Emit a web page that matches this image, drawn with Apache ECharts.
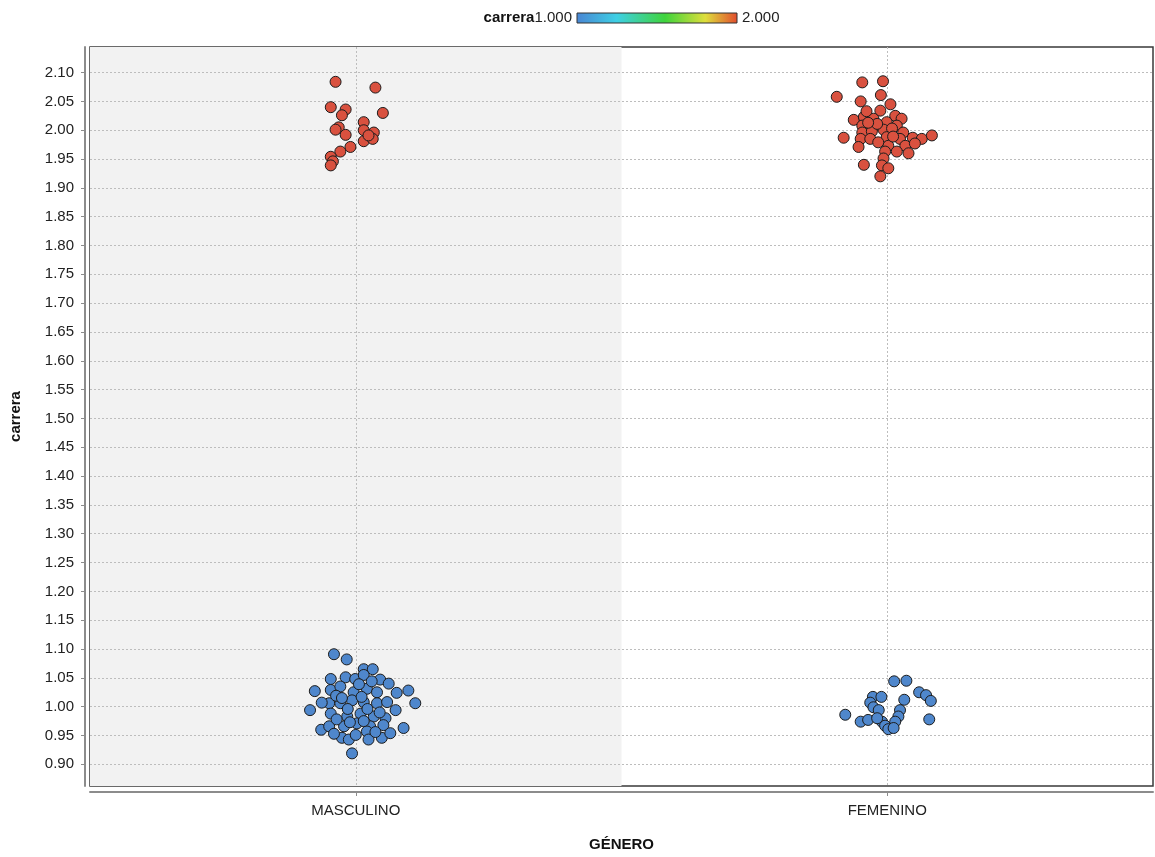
<!DOCTYPE html>
<html>
<head>
<meta charset="utf-8">
<script src="https://cdn.jsdelivr.net/npm/echarts@6/dist/echarts.min.js"></script>
<style>
html,body{margin:0;padding:0;background:#fff;}
#chart{width:1155px;height:857px;}
</style>
</head>
<body>
<div id="chart"></div>
<script>
// ---- data ----
const categories = ['MASCULINO', 'FEMENINO'];
const yTickValues = [0.90,0.95,1.00,1.05,1.10,1.15,1.20,1.25,1.30,1.35,1.40,1.45,1.50,1.55,1.60,1.65,1.70,1.75,1.80,1.85,1.90,1.95,2.00,2.05,2.10];
const carreraRange = [1, 2];
const yTitle = 'carrera';
const xTitle = 'GÉNERO';

// [jitter (category units), carrera value]
const mascCarrera1 = [
  [-0.041,1.091],[-0.017,1.082],[0.015,1.065],[0.032,1.065],[-0.047,1.048],[-0.019,1.051],[-0.001,1.048],
  [0.015,1.055],[0.046,1.047],[0.062,1.040],[-0.077,1.027],[-0.047,1.029],[-0.029,1.035],[-0.004,1.025],
  [0.021,1.031],[0.040,1.025],[0.077,1.024],[0.099,1.028],[-0.086,0.994],[-0.050,1.006],[-0.029,1.006],
  [-0.007,1.011],[0.015,1.008],[0.040,1.006],[0.059,1.008],[0.112,1.006],[-0.047,0.988],[-0.016,0.983],
  [0.009,0.988],[0.034,0.983],[0.056,0.980],[-0.065,0.960],[-0.050,0.966],[-0.022,0.966],[0.002,0.971],
  [0.027,0.966],[0.052,0.968],[0.090,0.963],[-0.026,0.946],[-0.013,0.943],[0.021,0.957],[0.024,0.943],
  [0.049,0.946],[0.065,0.954],[-0.007,0.919],[-0.037,1.019],[0.011,1.017],[-0.015,0.996],[0.022,0.996],
  [-0.036,0.978],[0.000,0.951],[0.037,0.956],[0.006,1.039],[-0.064,1.007],[0.075,0.994],[-0.041,0.953],
  [0.030,1.044],[-0.011,0.973],[0.015,0.975],[-0.026,1.015],[0.045,0.990]
];
const mascCarrera2 = [
  [-0.038,2.084],[0.037,2.074],[-0.047,2.040],[-0.019,2.036],[-0.026,2.026],[0.051,2.030],[0.015,2.014],
  [-0.032,2.005],[-0.038,2.001],[-0.019,1.992],[0.015,2.000],[0.034,1.996],[0.015,1.981],[0.032,1.985],
  [-0.010,1.971],[-0.029,1.963],[-0.047,1.954],[-0.043,1.946],[-0.047,1.939],[0.024,1.991]
];
const femCarrera1 = [
  [0.013,1.044],[0.036,1.045],[0.060,1.025],[0.073,1.020],[0.082,1.010],[-0.027,1.017],[-0.011,1.017],
  [-0.032,1.007],[0.032,1.012],[-0.026,0.999],[-0.016,0.994],[0.024,0.994],[-0.079,0.986],[0.021,0.983],
  [0.079,0.978],[-0.050,0.974],[-0.036,0.977],[-0.010,0.974],[0.015,0.974],[-0.004,0.967],[0.002,0.961],
  [0.012,0.963],[-0.019,0.980]
];
const femCarrera2 = [
  [-0.047,2.083],[-0.008,2.085],[-0.095,2.058],[-0.050,2.050],[-0.012,2.061],[0.006,2.045],[-0.013,2.034],
  [0.015,2.025],[-0.063,2.018],[-0.044,2.023],[-0.026,2.020],[0.027,2.020],[-0.001,2.014],[-0.047,2.008],
  [-0.026,2.005],[0.018,2.008],[-0.007,2.001],[0.009,2.003],[-0.047,1.996],[-0.029,1.998],[0.030,1.996],
  [-0.082,1.987],[-0.050,1.985],[-0.032,1.985],[-0.001,1.988],[0.024,1.985],[0.048,1.987],[0.065,1.985],
  [0.084,1.991],[-0.054,1.971],[0.002,1.973],[0.034,1.973],[0.040,1.960],[0.018,1.963],[-0.004,1.963],
  [-0.007,1.951],[-0.044,1.940],[-0.010,1.939],[0.002,1.934],[-0.013,1.920],[-0.019,2.011],[-0.036,2.013],
  [0.011,1.989],[-0.017,1.979],[0.052,1.977],[-0.039,2.033]
];

// ---- build ----
function pts(arr, catIdx, carrera) {
  return arr.map(p => [catIdx + p[0], p[1], carrera]);
}
const allPoints = []
  .concat(pts(mascCarrera1, 0, 1))
  .concat(pts(femCarrera1, 1, 1))
  .concat(pts(mascCarrera2, 0, 2))
  .concat(pts(femCarrera2, 1, 2));

const FONT = 'Liberation Sans';
const FS = 15;
const gradStops = [
  {offset:0, color:'#4a86d4'},
  {offset:0.25, color:'#3ecfe4'},
  {offset:0.55, color:'#3fd43c'},
  {offset:0.8, color:'#dede3c'},
  {offset:1, color:'#e24c2e'}
];

const chart = echarts.init(document.getElementById('chart'), null, {renderer:'canvas'});
chart.setOption({
  animation: false,
  backgroundColor: '#ffffff',
  textStyle: {fontFamily: FONT},
  grid: {
    left: 86, right: 2, top: 47, bottom: 60,
    show: true, backgroundColor: 'rgba(255,255,255,0)', borderColor: '#3a3a3a', borderWidth: 1.5
  },
  visualMap: {
    type: 'continuous', show: false,
    min: carreraRange[0], max: carreraRange[1], dimension: 2, seriesIndex: 0,
    inRange: {color: ['#4f87cc', '#d9513f']}
  },
  xAxis: [
    {
      type: 'category', data: categories, boundaryGap: true, position: 'bottom', offset: 6, z: 0,
      name: xTitle, nameLocation: 'middle', nameGap: 45,
      nameTextStyle: {fontFamily: FONT, fontSize: FS, fontWeight: 'bold', color: '#111'},
      axisLine: {show: true, onZero: false, lineStyle: {color: '#8c8c8c', width: 2}},
      axisTick: {show: true, alignWithLabel: true, length: 4, lineStyle: {color: '#8c8c8c'}},
      axisLabel: {fontFamily: FONT, fontSize: FS, color: '#222', margin: 11},
      splitLine: {show: false},
      splitArea: {show: true, areaStyle: {color: ['#f2f2f2', 'rgba(255,255,255,0)']}}
    },
    {
      type: 'value', min: -0.5, max: 1.5, position: 'bottom', z: 1,
      axisLine: {show: false, onZero: false},
      axisTick: {show: false, customValues: [0, 1]},
      axisLabel: {show: false, customValues: [0, 1]},
      splitLine: {show: true, lineStyle: {color: '#bdbdbd', width: 1, type: [2, 2]}}
    }
  ],
  yAxis: {
    type: 'value', min: 0.8624, max: 2.1444, offset: 5, z: 1,
    minInterval: 0.05, maxInterval: 0.05,
    name: yTitle, nameLocation: 'middle', nameGap: 62, nameRotate: 90,
    nameTextStyle: {fontFamily: FONT, fontSize: FS, fontWeight: 'bold', color: '#111'},
    axisLine: {show: true, onZero: false, lineStyle: {color: '#8c8c8c', width: 2}},
    axisTick: {show: true, length: 4, lineStyle: {color: '#8c8c8c'}, customValues: yTickValues},
    axisLabel: {
      fontFamily: FONT, fontSize: FS, color: '#222', margin: 11,
      customValues: yTickValues,
      formatter: v => v.toFixed(2)
    },
    splitLine: {show: true, lineStyle: {color: '#bdbdbd', width: 1, type: [2, 2]}}
  },
  series: [
    {
      type: 'scatter', xAxisIndex: 1, yAxisIndex: 0, z: 3,
      data: allPoints, symbol: 'circle', symbolSize: 11,
      itemStyle: {borderColor: '#1c1c1c', borderWidth: 1, opacity: 1}
    }
  ],
  graphic: [
    {
      type: 'text', x: 572, y: 18,
      style: {
        text: '{b|' + yTitle + '}' + carreraRange[0].toFixed(3),
        rich: {b: {fontFamily: FONT, fontSize: FS, fontWeight: 'bold', fill: '#111'}},
        fontFamily: FONT, fontSize: FS, fill: '#222',
        align: 'right', verticalAlign: 'middle'
      }
    },
    {
      type: 'rect', x: 577, y: 13, shape: {x: 0, y: 0, width: 160, height: 10},
      style: {
        fill: new echarts.graphic.LinearGradient(0, 0, 1, 0, gradStops),
        stroke: '#333', lineWidth: 1
      }
    },
    {
      type: 'text', x: 742, y: 18,
      style: {
        text: carreraRange[1].toFixed(3),
        fontFamily: FONT, fontSize: FS, fill: '#222',
        align: 'left', verticalAlign: 'middle'
      }
    }
  ]
});
</script>
</body>
</html>
